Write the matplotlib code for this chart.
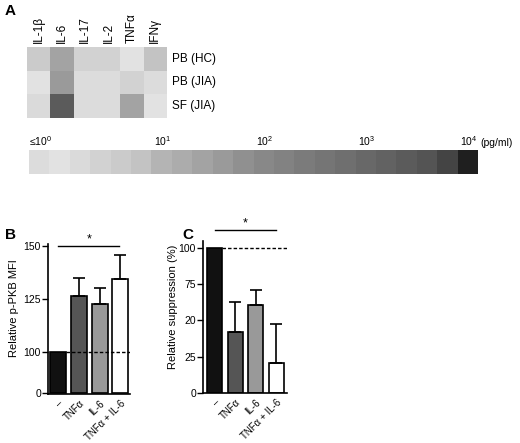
import numpy as np
import matplotlib
matplotlib.use('Agg')
import matplotlib.pyplot as plt
from matplotlib.colors import ListedColormap, BoundaryNorm

plt.rcParams['font.family'] = ['Liberation Sans', 'DejaVu Sans']
plt.rcParams['mathtext.default'] = 'regular'

# ---- panel A data: log10 concentration (pg/ml) ----
cytokines = ['IL-1β', 'IL-6', 'IL-17', 'IL-2', 'TNFα', 'IFNγ']
samples = ['PB (HC)', 'PB (JIA)', 'SF (JIA)']
log_pb_hc = [0.6, 1.4, 0.4, 0.4, 0.0, 0.8]
log_pb_jia = [0.0, 1.6, -0.2, -0.2, 0.4, -0.2]
log_sf_jia = [0.2, 3.4, -0.2, -0.2, 1.4, 0.0]

scale_grays = ['#dcdcdc', '#e2e2e2', '#dadada', '#d2d2d2', '#cbcbcb', '#c3c3c3',
               '#b4b4b4', '#acacac', '#a3a3a3', '#9a9a9a', '#909090', '#888888',
               '#828282', '#7b7b7b', '#757575', '#6f6f6f', '#686868', '#626262',
               '#5b5b5b', '#545454', '#444444', '#1f1f1f']
scale_ticks = [0, 1, 2, 3, 4]
scale_labels = ['≤10$^0$', '10$^1$', '10$^2$', '10$^3$', '10$^4$']

# ---- panel B / C data ----
treatments = ['–', 'TNFα', 'IL-6', 'TNFα + IL-6']
bar_colors = ['#111111', '#555555', '#999999', '#ffffff']
pkb_mean = [100, 126.4, 122.8, 134.3]
pkb_err = [0, 8.4, 7.3, 11.6]
supp_mean = [100, 41.9, 60.9, 21.0]
supp_err = [0, 21.0, 10.0, 26.4]

fig = plt.figure(figsize=(5.2, 4.43), dpi=100)
W, H = 520.0, 443.0

def px_axes(x0, y0, x1, y1):
    return fig.add_axes([x0 / W, 1 - y1 / H, (x1 - x0) / W, (y1 - y0) / H])

# ---- A: heatmap ----
cmap = ListedColormap(scale_grays)
bounds = -0.31 + 0.2 * np.arange(len(scale_grays) + 1)
norm = BoundaryNorm(bounds, cmap.N)

axh = px_axes(27, 47, 167, 118)
grid = np.array([log_pb_hc, log_pb_jia, log_sf_jia])
axh.pcolormesh(grid, cmap=cmap, norm=norm)
axh.set_xlim(0, len(cytokines))
axh.set_ylim(len(samples), 0)
axh.set_xticks([])
axh.set_yticks([])
for s in axh.spines.values():
    s.set_visible(False)
for i, c in enumerate(cytokines):
    axh.text(i + 0.5, -0.15, c, rotation=90, ha='center', va='bottom', fontsize=8.5)
for j, s in enumerate(samples):
    axh.text(len(cytokines) + 0.2, j + 0.5, s, ha='left', va='center', fontsize=8.5)

axc = px_axes(29, 150, 478, 174)
axc.pcolormesh(bounds, [0, 1], np.arange(len(scale_grays))[None, :] * 0.2 - 0.21,
               cmap=cmap, norm=norm)
axc.set_xlim(bounds[0], bounds[-1])
axc.set_ylim(0, 1)
axc.set_xticks([])
axc.set_yticks([])
for s in axc.spines.values():
    s.set_visible(False)
for k, lab in zip(scale_ticks, scale_labels):
    if k == 0:
        axc.text(bounds[0], 1.1, lab, ha='left', va='bottom', fontsize=7.5)
    else:
        axc.text(k, 1.1, lab, ha='center', va='bottom', fontsize=7.5)
axc.text(bounds[-1] + 0.02, 1.1, '(pg/ml)', ha='left', va='bottom', fontsize=7.5)

def style_bar_axes(ax):
    for side in ['top', 'right']:
        ax.spines[side].set_visible(False)
    for side in ['left', 'bottom']:
        ax.spines[side].set_linewidth(1.2)
    ax.tick_params(axis='y', labelsize=7.5, length=4, width=1.0, pad=1)
    ax.tick_params(axis='x', labelsize=7, length=0, pad=3)
    ax.set_xticks(range(len(treatments)))
    ax.set_xticklabels(treatments, rotation=45, ha='right', rotation_mode='anchor')

# ---- B ----
ZERO_B = 80.7
def b_pos(v):
    return v if v >= 100 else ZERO_B + (100 - ZERO_B) * v / 100.0

axb = px_axes(48, 244, 130, 394)
xs = np.arange(len(treatments))
tops = [b_pos(v) for v in pkb_mean]
axb.bar(xs, np.array(tops) - ZERO_B, bottom=ZERO_B, width=0.77, color=bar_colors,
        edgecolor='black', linewidth=1.2, zorder=2)
axb.plot([0.385, 3.46], [100, 100], color='black', lw=1.0, ls=(0, (2.5, 1.5)), zorder=4)
axb.errorbar(xs[1:], tops[1:], yerr=[np.zeros(3), pkb_err[1:]], fmt='none',
             ecolor='black', elinewidth=1.2, capsize=4, capthick=1.2, zorder=3)
axb.set_xlim(-0.48, 3.46)
axb.set_ylim(ZERO_B - 0.5, 150.9)
axb.set_yticks([ZERO_B, 100, 125, 150])
axb.set_yticklabels(['0', '100', '125', '150'])
style_bar_axes(axb)
axb.set_ylabel('Relative p-PKB MFI', fontsize=8)
axb.yaxis.set_label_coords(-29 / 82, 0.57)
axb.plot([0, 2.95], [150, 150], color='black', lw=1.0, clip_on=False)
axb.text(1.5, 150.3, '*', ha='center', va='bottom', fontsize=9)

# ---- C ----
axs = px_axes(203, 241, 287, 393)
axs.plot([0.365, 3.52], [100, 100], color='black', lw=1.0, ls=(0, (2.5, 1.5)), zorder=1)
axs.bar(xs, supp_mean, width=0.73, color=bar_colors, edgecolor='black',
        linewidth=1.2, zorder=2)
axs.errorbar(xs[1:], supp_mean[1:], yerr=[np.zeros(3), supp_err[1:]], fmt='none',
             ecolor='black', elinewidth=1.2, capsize=4, capthick=1.2, zorder=3)
axs.set_xlim(-0.56, 3.52)
axs.set_ylim(0, 104.8)
axs.set_yticks([0, 25, 50, 75, 100])
axs.set_yticklabels(['0', '25', '20', '75', '100'])
style_bar_axes(axs)
axs.set_ylabel('Relative suppression (%)', fontsize=8)
axs.yaxis.set_label_coords(-25 / 84, 0.57)
axs.plot([0, 3.0], [112.5, 112.5], color='black', lw=1.0, clip_on=False)
axs.text(1.5, 113, '*', ha='center', va='bottom', fontsize=9)

# panel letters
fig.text(5 / W, 1 - 4 / H, 'A', fontsize=11, fontweight='bold', va='top')
fig.text(5 / W, 1 - 228 / H, 'B', fontsize=11, fontweight='bold', va='top')
fig.text(182 / W, 1 - 228 / H, 'C', fontsize=11, fontweight='bold', va='top')

fig.savefig('out.png', dpi=100)
